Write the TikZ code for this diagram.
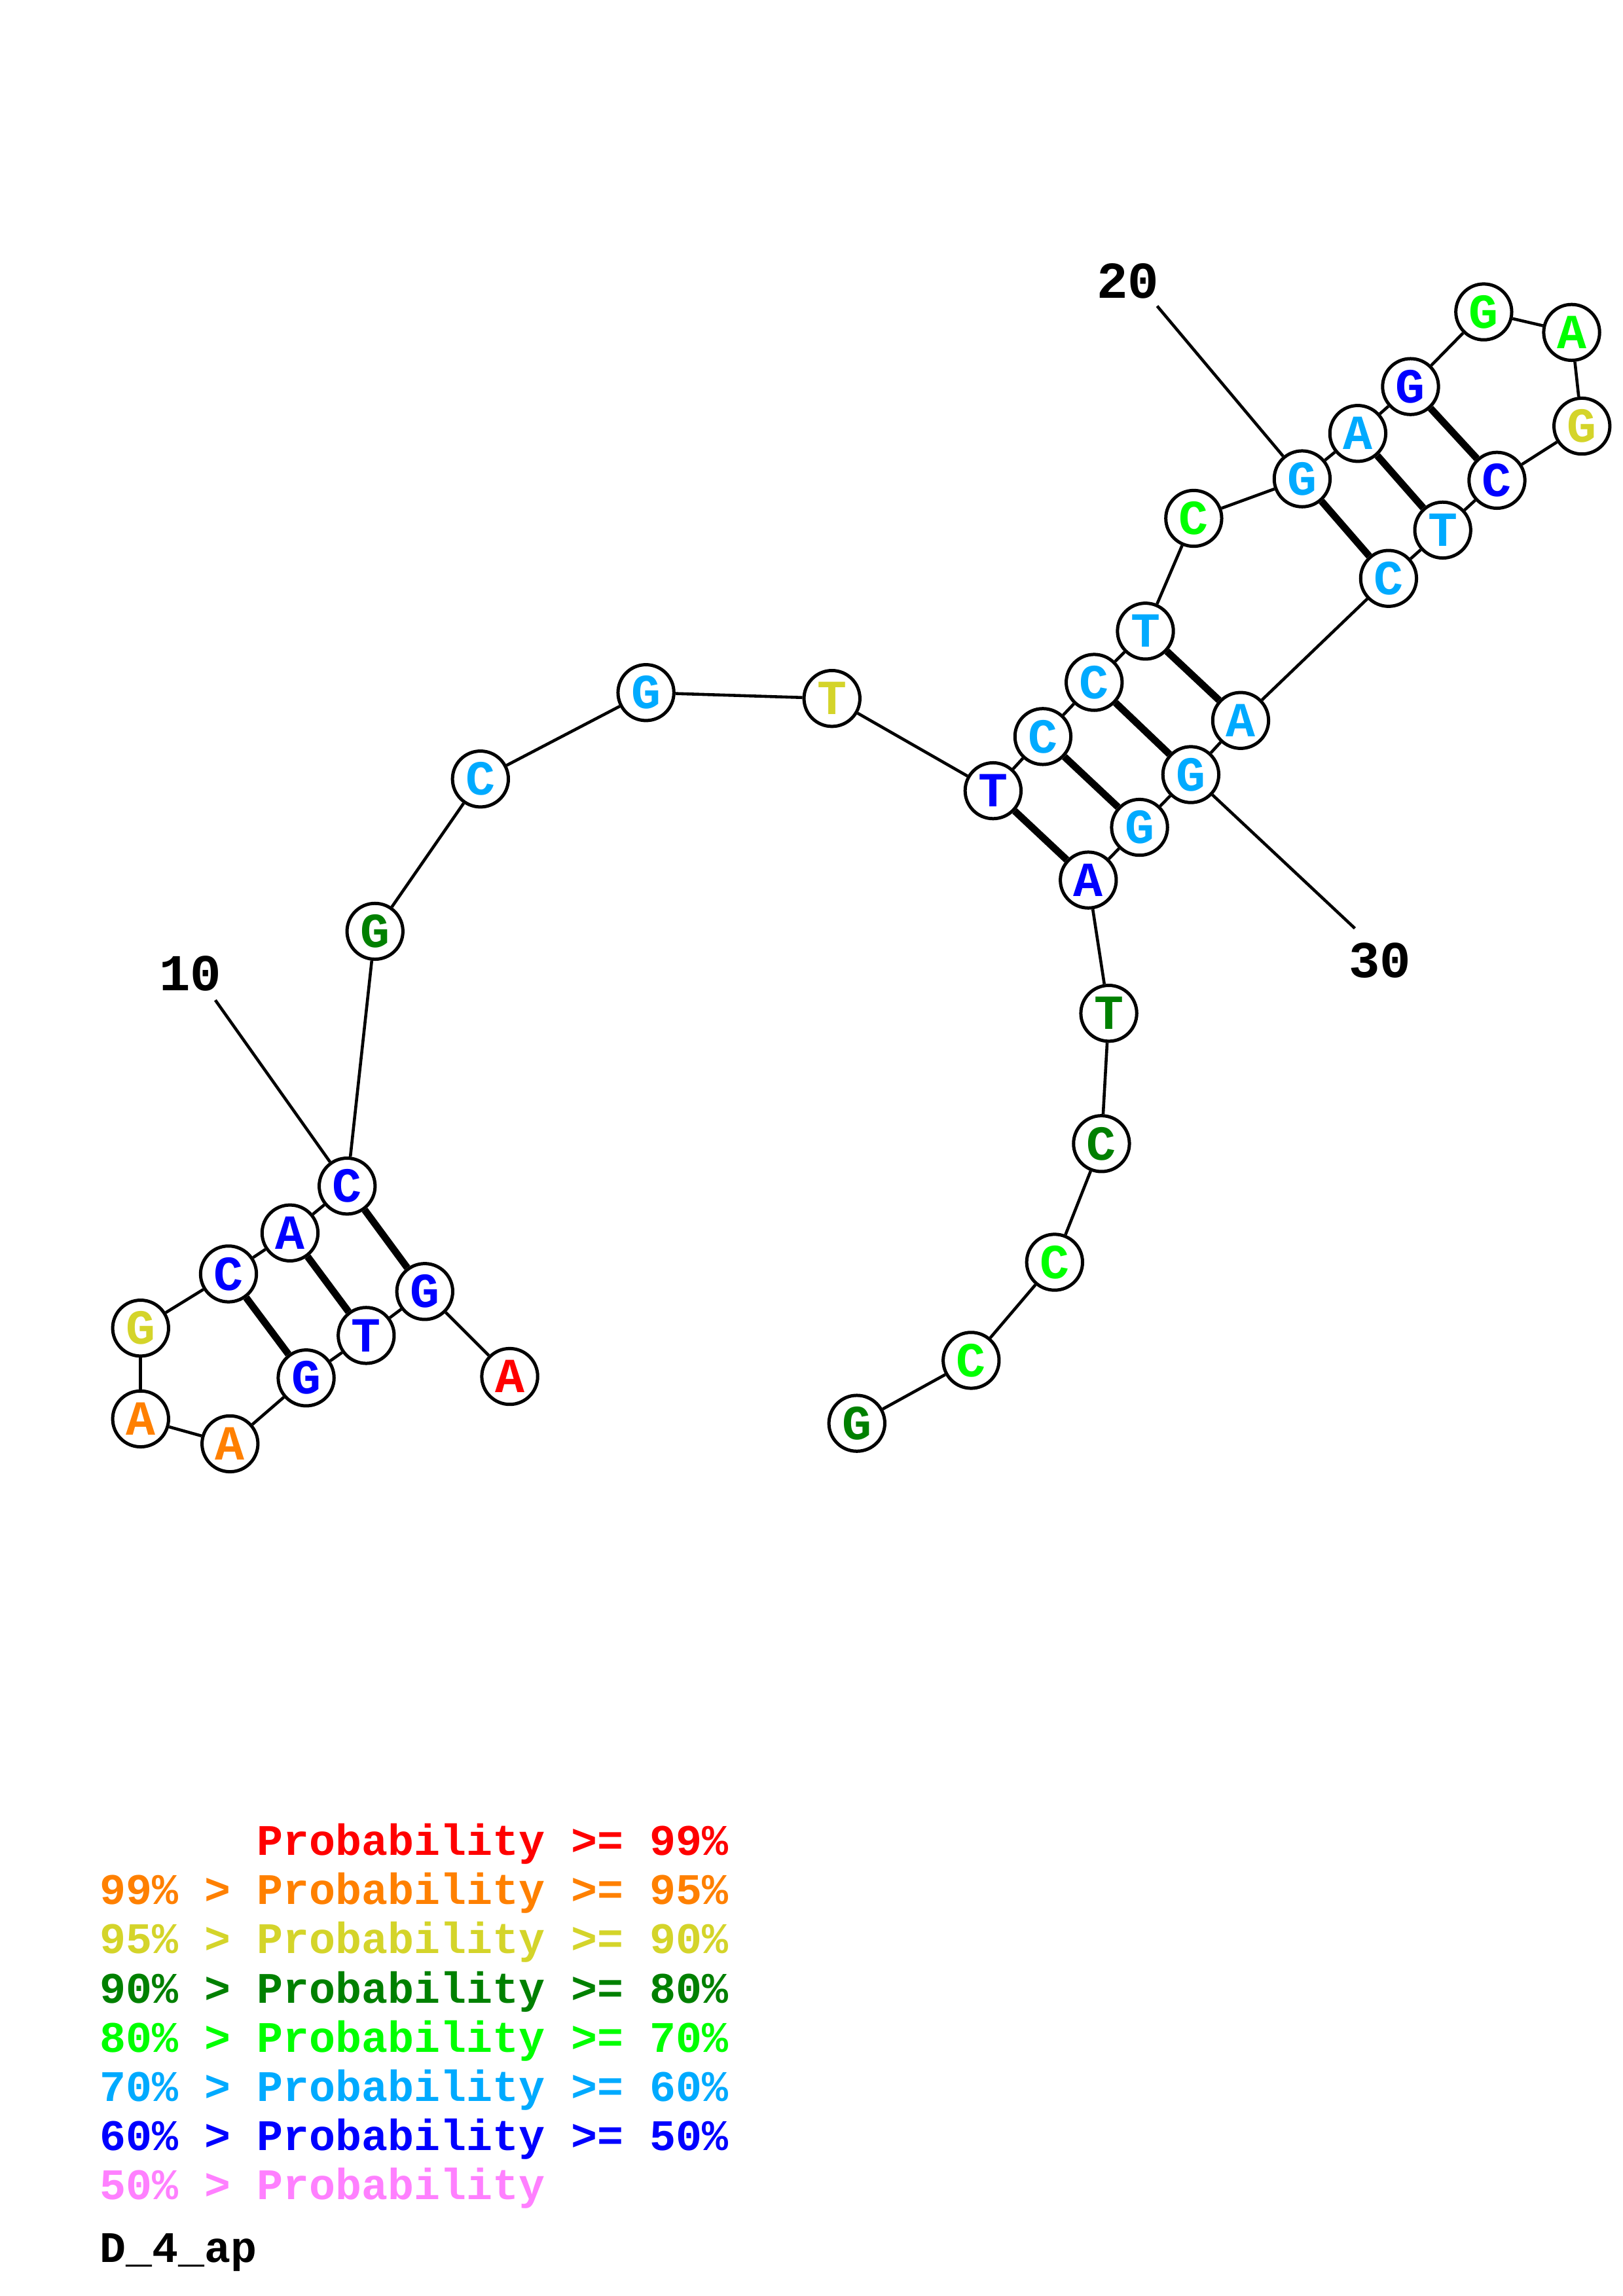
\documentclass[tikz,border=0pt]{standalone}
\usepackage{fontspec}
\setmonofont{Liberation Mono}
\usetikzlibrary{positioning}

\definecolor{pred}{RGB}{255,0,0}
\definecolor{porange}{RGB}{255,128,0}
\definecolor{pyellow}{RGB}{212,212,42}
\definecolor{pdkgreen}{RGB}{0,128,0}
\definecolor{pgreen}{RGB}{0,255,0}
\definecolor{pltblue}{RGB}{0,170,255}
\definecolor{pblue}{RGB}{0,0,255}
\definecolor{ppink}{RGB}{255,128,255}

\tikzset{
  base/.style={draw, circle, fill=white, line width=1.2pt, minimum size=20.5pt,
               inner sep=0pt, font=\ttfamily\bfseries\fontsize{18}{18}\selectfont},
  link/.style={line width=1.1pt},
  pair/.style={line width=2.6pt},
  numlabel/.style={font=\ttfamily\bfseries\fontsize{19}{19}\selectfont},
  legend/.style={anchor=base west, inner sep=0pt, font=\ttfamily\bfseries\fontsize{16}{16}\selectfont}
}

\begin{document}
\begin{tikzpicture}[x=0.5373pt, y=-0.5373pt]
  \useasboundingbox (0,0) rectangle (1108,1568);

  % first hairpin
  \node[base, text=pred]     (n1)  at (348,940) {A};
  \node[base, text=pblue]    (n2)  at (290,882) {G};
  \node[base, text=pblue]    (n3)  at (250,912) {T};
  \node[base, text=pblue]    (n4)  at (209,941) {G};
  \node[base, text=porange]  (n5)  at (157,986) {A};
  \node[base, text=porange]  (n6)  at (96,969)  {A};
  \node[base, text=pyellow]  (n7)  at (96,907)  {G};
  \node[base, text=pblue]    (n8)  at (156,870) {C};
  \node[base, text=pblue]    (n9)  at (198,842) {A};
  \node[base, text=pblue]    (n10) at (237,810) {C};
  % linker
  \node[base, text=pdkgreen] (n11) at (256,636) {G};
  \node[base, text=pltblue]  (n12) at (328,532) {C};
  \node[base, text=pltblue]  (n13) at (441,473) {G};
  \node[base, text=pyellow]  (n14) at (568,477) {T};
  % second hairpin
  \node[base, text=pblue]    (n15) at (678,540) {T};
  \node[base, text=pltblue]  (n16) at (712,503) {C};
  \node[base, text=pltblue]  (n17) at (747,466) {C};
  \node[base, text=pltblue]  (n18) at (782,431) {T};
  \node[base, text=pgreen]   (n19) at (815,354) {C};
  \node[base, text=pltblue]  (n20) at (889,327) {G};
  \node[base, text=pltblue]  (n21) at (927,296) {A};
  \node[base, text=pblue]    (n22) at (963,264) {G};
  \node[base, text=pgreen]   (n23) at (1013,213) {G};
  \node[base, text=pgreen]   (n24) at (1073,227) {A};
  \node[base, text=pyellow]  (n25) at (1080,291) {G};
  \node[base, text=pblue]    (n26) at (1022,328) {C};
  \node[base, text=pltblue]  (n27) at (985,362) {T};
  \node[base, text=pltblue]  (n28) at (948,395) {C};
  \node[base, text=pltblue]  (n29) at (847,492) {A};
  \node[base, text=pltblue]  (n30) at (813,529) {G};
  \node[base, text=pltblue]  (n31) at (778,565) {G};
  \node[base, text=pblue]    (n32) at (743,601) {A};
  % tail
  \node[base, text=pdkgreen] (n33) at (757,692) {T};
  \node[base, text=pdkgreen] (n34) at (752,781) {C};
  \node[base, text=pgreen]   (n35) at (720,862) {C};
  \node[base, text=pgreen]   (n36) at (663,929) {C};
  \node[base, text=pdkgreen] (n37) at (585,972) {G};

  % backbone
  \foreach \a/\b in {1/2,2/3,3/4,4/5,5/6,6/7,7/8,8/9,9/10,10/11,11/12,12/13,
                     13/14,14/15,15/16,16/17,17/18,18/19,19/20,20/21,21/22,
                     22/23,23/24,24/25,25/26,26/27,27/28,28/29,29/30,30/31,
                     31/32,32/33,33/34,34/35,35/36,36/37}
    \draw[link] (n\a) -- (n\b);

  % base pairs
  \foreach \a/\b in {8/4,9/3,10/2,15/32,16/31,17/30,18/29,20/28,21/27,22/26}
    \draw[pair] (n\a) -- (n\b);

  % position labels
  \node[numlabel] (t10) at (130,665) {10};
  \node[numlabel] (t20) at (770,192) {20};
  \node[numlabel] (t30) at (942,656) {30};
  \coordinate (e10) at (147,683);
  \coordinate (e20) at (790,209);
  \coordinate (e30) at (925,634);
  \draw[link] (e10) -- (n10);
  \draw[link] (e20) -- (n20);
  \draw[link] (e30) -- (n30);

  % legend
  \node[legend, text=pred]     (k1) at (68,1267)   {\hphantom{99\% > }Probability >= 99\%};
  \node[legend, text=porange]  (k2) at (68,1300.6) {99\% > Probability >= 95\%};
  \node[legend, text=pyellow]  (k3) at (68,1334.2) {95\% > Probability >= 90\%};
  \node[legend, text=pdkgreen] (k4) at (68,1367.8) {90\% > Probability >= 80\%};
  \node[legend, text=pgreen]   (k5) at (68,1401.4) {80\% > Probability >= 70\%};
  \node[legend, text=pltblue]  (k6) at (68,1435)   {70\% > Probability >= 60\%};
  \node[legend, text=pblue]    (k7) at (68,1468.6) {60\% > Probability >= 50\%};
  \node[legend, text=ppink]    (k8) at (68,1502.2) {50\% > Probability};
  \node[legend]                (nm) at (68,1545)   {D\_4\_ap};
\end{tikzpicture}
\end{document}
